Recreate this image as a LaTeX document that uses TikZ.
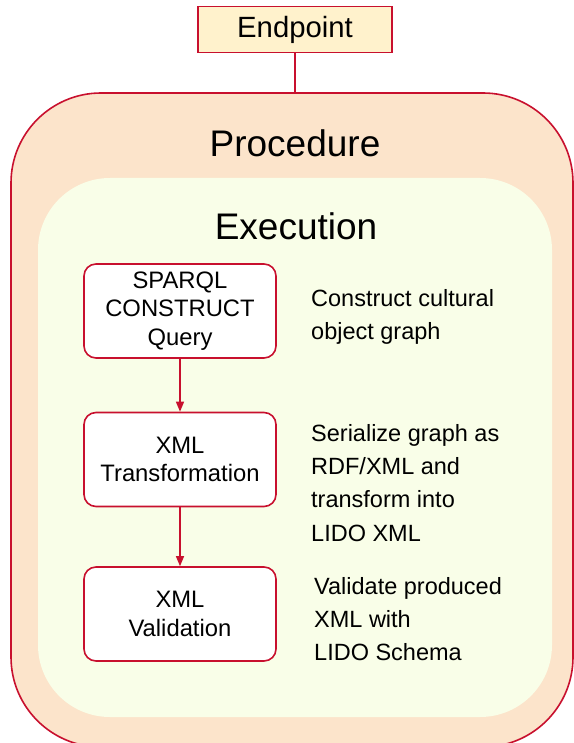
\documentclass[tikz,border=0pt]{standalone}
\usepackage{fontspec}
\setmainfont{Liberation Sans}
\usetikzlibrary{positioning,arrows.meta}

\definecolor{borderred}{HTML}{C8102E}
\definecolor{procfill}{HTML}{FCE4CB}
\definecolor{execfill}{HTML}{F9FEE8}
\definecolor{endfill}{HTML}{FFF2CC}

\tikzset{
	stepnode/.style={draw=borderred, line width=1.6pt, fill=white, rounded corners=12pt,
		minimum width=192pt, minimum height=94pt, align=center, inner sep=2pt,
		font=\fontsize{23.8}{28.5}\selectfont},
	note/.style={anchor=north west, inner sep=0pt, align=left,
		font=\fontsize{23.5}{33.3}\selectfont},
	title/.style={inner sep=0pt, font=\fontsize{37}{40}\selectfont},
	flow/.style={draw=borderred, line width=1.3pt, -{Triangle[length=10pt,width=8pt]}}
}

\begin{document}
\begin{tikzpicture}[x=1pt,y=1pt]
					%\draw[help lines] (0,0) grid (573,-743);
					\useasboundingbox (0,0) rectangle (573,-743);
					
					% containers
					\node[draw=borderred, line width=1.6pt, fill=procfill, rounded corners=90pt,
						minimum width=562pt, minimum height=654pt, inner sep=0pt] (procedure) at (292,-420) {};
					\node[fill=execfill, rounded corners=72pt,
						minimum width=514pt, minimum height=539pt, inner sep=0pt] (execution) at (295,-447.5) {};
					\node[title] (proclabel) at (295,-143) {Procedure};
					\node[title] (execlabel) at (296,-226) {Execution};
					
					% endpoint
					\node[draw=borderred, line width=1.6pt, fill=endfill, minimum width=194pt,
						minimum height=46pt, font=\fontsize{29.3}{32}\selectfont] (endpoint) at (295,-29.5) {Endpoint};
					\draw[borderred, line width=1.3pt] (endpoint.south) -- (endpoint.south |- procedure.north);
					
					% steps
					\node[stepnode] (sparql) at (180,-311) {SPARQL\\CONSTRUCT\\Query};
					\node[stepnode] (xmltrans) at (180,-459.5) {XML\\Transformation};
					\node[stepnode] (xmlvalid) at (180,-614) {XML\\Validation};
					\foreach \a/\b in {sparql/xmltrans,xmltrans/xmlvalid}{\draw[flow] (\a) -- (\b);}
					
					% descriptions
					\node[note] (sparqlnote) at (311,-289) {Construct cultural\\object graph};
					\node[note] (transnote) at (311,-424) {Serialize graph as\\RDF/XML and\\transform into\\LIDO XML};
					\node[note] (validnote) at (314,-577) {Validate produced\\XML with\\LIDO Schema};
\end{tikzpicture}
\end{document}
